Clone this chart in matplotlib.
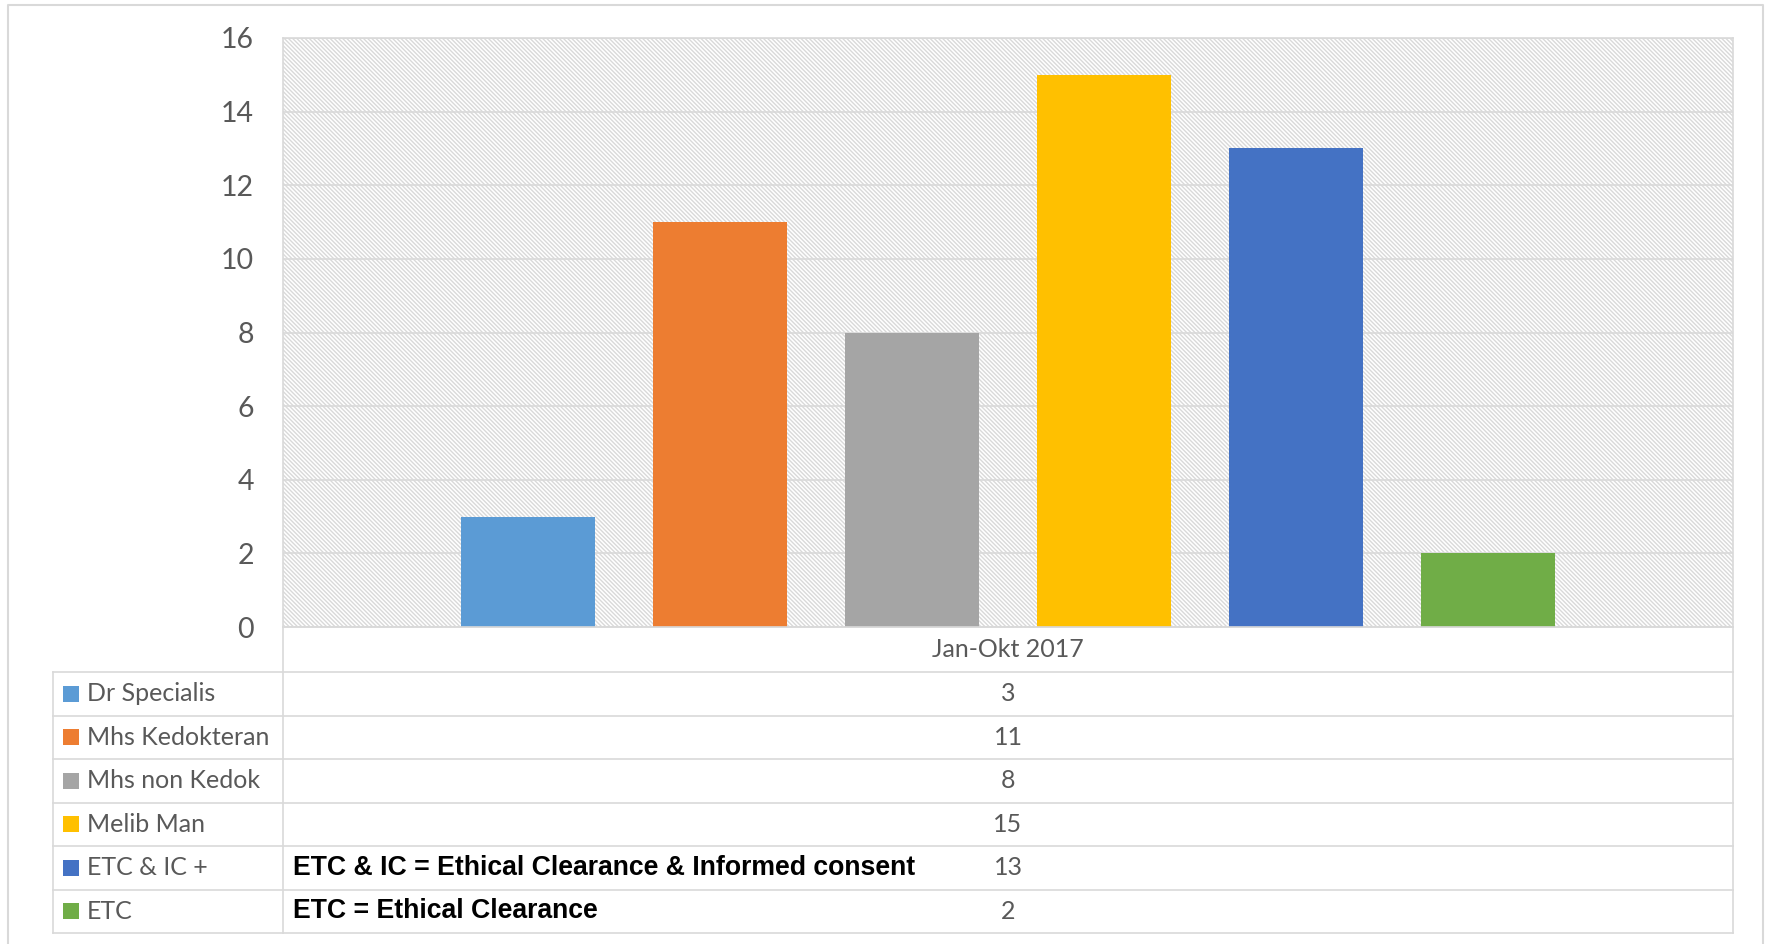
import matplotlib.pyplot as plt
from matplotlib.patches import Rectangle
from matplotlib import font_manager

## Donnees
kategori = ["Dr Specialis", "Mhs Kedokteran", "Mhs non Kedok", "Melib Man", "ETC & IC +", "ETC"]
nilai = [3, 11, 8, 15, 13, 2]
warna = ["#5B9BD5", "#ED7D31", "#A5A5A5", "#FFC000", "#4472C4", "#70AD47"]
periode = "Jan-Okt 2017"
yticks = [0, 2, 4, 6, 8, 10, 12, 14, 16]
catatan = {4: "ETC & IC = Ethical Clearance & Informed consent",
           5: "ETC = Ethical Clearance"}

## Mise en page (pixels)
W, H = 1769, 944
GRIS = "#d9d9d9"
TXT = "#595959"
x_gauche, x_div, x_droite = 53, 283, 1733
y_haut, y_zero = 38, 627
y_tab = 672
h_ligne = 43.5

# police etroite pour les notes si disponible
noms = {f.name for f in font_manager.fontManager.ttflist}
if 'Liberation Sans Narrow' in noms:
    police_note, taille_note = 'Liberation Sans Narrow', 22
else:
    police_note, taille_note = 'Liberation Sans', 19.2

plt.rcParams['font.family'] = ['Lato', 'DejaVu Sans']
plt.rcParams['hatch.linewidth'] = 1.0
fig = plt.figure(figsize=(W/100, H/100), dpi=100)

ax = fig.add_axes([x_div/W, (H-y_zero)/H, (x_droite-x_div)/W, (y_zero-y_haut)/H])
fond = Rectangle((0, 0), 1, 1, transform=ax.transAxes, facecolor="white",
                 edgecolor="#d9d9d9", hatch="\\"*8, linewidth=0, zorder=0)
ax.add_patch(fond)

pos = list(range(len(nilai)))
ax.bar(pos, nilai, width=0.703, color=warna, zorder=3)
ax.set_xlim(2.5-3.776, 2.5+3.776)
ax.set_ylim(0, 16)
ax.set_yticks(yticks)
ax.set_xticks([])
ax.tick_params(axis='y', length=0, pad=21, labelsize=20.5, labelcolor=TXT)
ax.grid(axis='y', color=GRIS, linewidth=1.2, zorder=1)
for s in ax.spines.values():
    s.set_color(GRIS)
    s.set_linewidth(1.2)

## Tableau de donnees (axe superpose en pixels)
ov = fig.add_axes([0, 0, 1, 1], facecolor="none")
ov.set_xlim(0, W)
ov.set_ylim(H, 0)
ov.axis("off")

n = len(kategori)
y_bas = y_tab + n*h_ligne
# cadre exterieur
ov.plot([8, 8, 1763, 1763], [H+5, 5, 5, H+5], color=GRIS, lw=1.5)
# lignes du tableau
ov.plot([x_div, x_droite], [y_zero, y_zero], color=GRIS, lw=1.2)
for i in range(n+1):
    y = y_tab + i*h_ligne
    ov.plot([x_gauche, x_droite], [y, y], color=GRIS, lw=1.2)
ov.plot([x_gauche, x_gauche], [y_tab, y_bas], color=GRIS, lw=1.2)
ov.plot([x_div, x_div], [y_zero, y_bas], color=GRIS, lw=1.2)
ov.plot([x_droite, x_droite], [y_zero, y_bas], color=GRIS, lw=1.2)

x_mid = (x_div + x_droite)/2
ov.text(x_mid, (y_zero+y_tab)/2, periode, ha="center", va="center", fontsize=18, color=TXT)
for i in range(n):
    yc = y_tab + (i+0.5)*h_ligne
    ov.add_patch(Rectangle((63, yc-8), 16, 16, facecolor=warna[i], edgecolor="none"))
    ov.text(87, yc, kategori[i], ha="left", va="center", fontsize=18, color=TXT)
    ov.text(x_mid, yc, str(nilai[i]), ha="center", va="center", fontsize=18, color=TXT)
    if i in catatan:
        ov.text(293, yc, catatan[i], ha="left", va="center", fontsize=taille_note,
                fontweight="bold", color="black", family=[police_note, 'DejaVu Sans'])

fig.savefig("out.png", dpi=100)
